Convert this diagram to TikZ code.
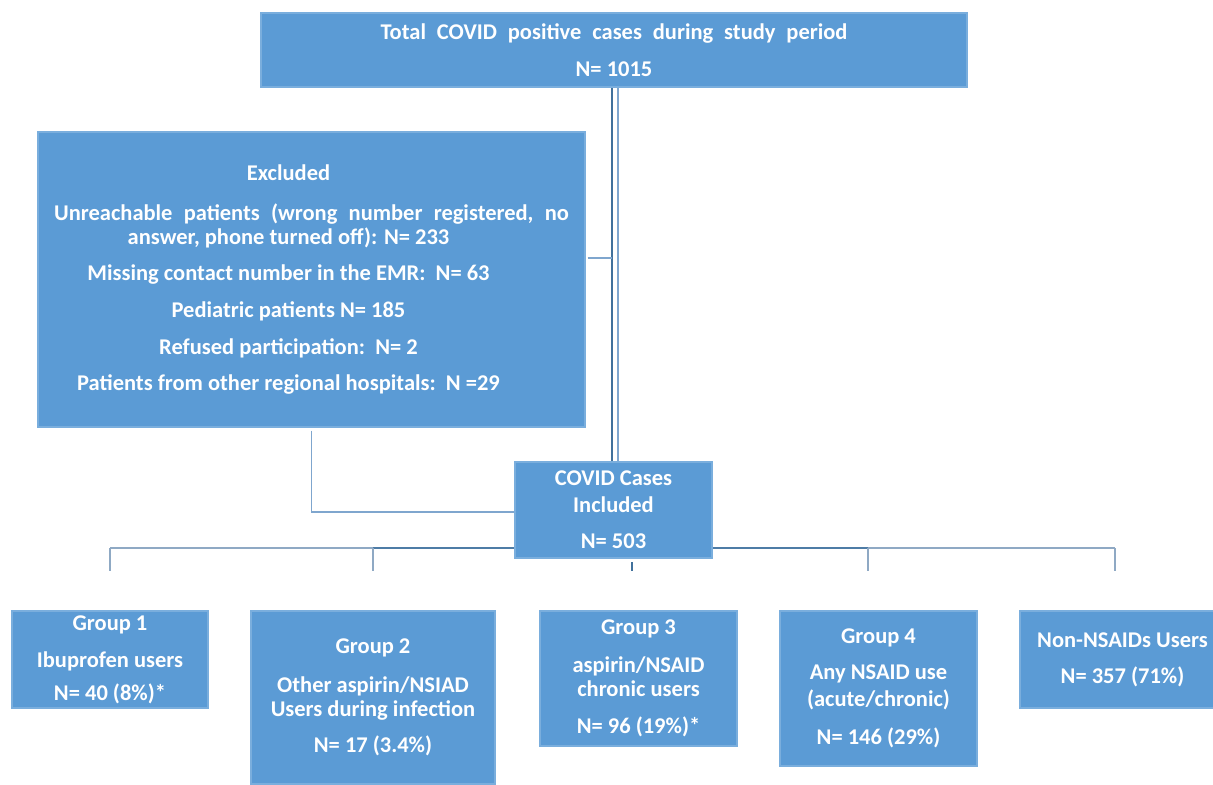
\documentclass[tikz,border=0pt]{standalone}
\usepackage{fontspec}
\setmainfont{Carlito}
\usetikzlibrary{calc, backgrounds}
\definecolor{boxblue}{HTML}{5B9BD5}
\definecolor{boxedge}{HTML}{7AAEDD}
\definecolor{linkdark}{HTML}{41719C}
\definecolor{linklight}{HTML}{7FA6CE}
\definecolor{buslight}{HTML}{8FA9C4}
\newcommand{\boxfont}{\bfseries\fontsize{12.8}{13.6}\selectfont}
\tikzset{
	box text/.style={
		inner sep=0pt,
		align=center,
		text=white,
		font=\boxfont
	},
	flow box/.style={
		box text,
		fill=boxblue,
		draw=boxedge,
		line width=0.6pt
	},
	link dark/.style={
		linkdark,
		line width=1.3pt
	},
	link light/.style={
		linklight,
		line width=1pt
	},
	bus style/.style={
		buslight,
		line width=0.9pt
	}
}

\begin{document}
\begin{tikzpicture}
		
		% --- 1. Frame (reference proportions) ---
		\useasboundingbox (0,0) rectangle (24.26,-15.68);
		
		% --- 2. Top and screening boxes ---
		\node[flow box, minimum width=14.12cm, minimum height=1.48cm] (total) at (12.28,-1.0) {
			\spaceskip=6.2pt plus 1pt\relax
			Total COVID positive cases during study period\\[7.4pt]
			N= 1015
		};
		
		\node[flow box, minimum width=10.94cm, minimum height=5.9cm] (excl) at (6.23,-5.59) {};
		% text block sits a little left of the box centre
		\node[box text] (exclText) at ([xshift=-0.46cm]excl.center) {
			Excluded\\[9pt]
			\makebox[0pt]{\hspace*{0.92cm}{\spaceskip=6.4pt plus 1pt\relax Unreachable patients (wrong number registered, no}}\\
			answer, phone turned off): N= 233\\[7pt]
			Missing contact number in the EMR:\ \ N= 63\\[7.6pt]
			Pediatric patients N= 185\\[7pt]
			Refused participation:\ \ N= 2\\[7pt]
			Patients from other regional hospitals:\ \ N =29
		};
		
		\node[flow box, minimum width=3.94cm, minimum height=1.92cm] (incl) at (12.27,-10.2) {
			COVID Cases\\[1.7pt]
			Included\\[6.8pt]
			N= 503
		};
		
		% --- 3. Group boxes ---
		\node[flow box, minimum width=3.92cm, minimum height=1.94cm] (grp1) at (2.2,-13.19) {
			Group 1\\[7.4pt]
			Ibuprofen users\\[5.2pt]
			N= 40 (8\%)*
		};
		
		\node[flow box, minimum width=4.88cm, minimum height=3.46cm] (grp2) at (7.46,-13.95) {
			Group 2\\[8.5pt]
			Other aspirin/NSIAD\\
			Users during infection\\[6.8pt]
			N= 17 (3.4\%)
		};
		
		\node[flow box, minimum width=3.94cm, minimum height=2.7cm] (grp3) at (12.77,-13.57) {
			Group 3\\[8pt]
			aspirin/NSAID\\
			chronic users\\[7.4pt]
			N= 96 (19\%)*
		};
		
		\node[flow box, minimum width=3.94cm, minimum height=3.1cm] (grp4) at (17.57,-13.77) {
			Group 4\\[6.8pt]
			Any NSAID use\\[1.7pt]
			(acute/chronic)\\[8pt]
			N= 146 (29\%)
		};
		
		\node[flow box, minimum width=4.1cm, minimum height=1.94cm] (nonuser) at (22.45,-13.19) {
			Non-NSAIDs Users\\[6.8pt]
			N= 357 (71\%)
		};
		
		\begin{scope}[on background layer]
			% --- 4. Connectors from the top box ---
			% double line down to the included cases
			\coordinate (trunkA) at ([xshift=-0.4mm]total.south);
			\coordinate (trunkB) at ([xshift=0.8mm]total.south);
			\draw[link dark] (trunkA) -- (trunkA |- incl.north);
			\draw[link light] (trunkB) -- (trunkB |- incl.north);
			
			% branch to the excluded box
			\coordinate (exclJoin) at (trunkA |- 0,-5.16);
			\draw[link light] ([xshift=0.4mm]excl.east |- exclJoin) -- (exclJoin);
			\draw[link light] ([yshift=-0.6mm]excl.south) |- ([yshift=-0.4mm]incl.west);
			
			% --- 5. Bus to the groups ---
			\coordinate (drop1) at (2.2,-10.96);
			\coordinate (drop2) at (7.46,-10.96);
			\coordinate (drop3) at (12.64,-10.96);
			\coordinate (drop4) at (17.36,-10.96);
			\coordinate (drop5) at (22.3,-10.96);
			\draw[bus style] (drop1) -- (drop5);
			\draw[link light, line width=1.1pt, linkdark!80!linklight] (drop2) -- (drop4);
			\foreach \d in {drop1, drop2, drop4, drop5} {
				\draw[bus style] (\d) -- ++(0,-0.46);
			}
			\draw[link dark, line width=0.8pt] ([yshift=-0.28cm]drop3) -- ++(0,-0.18);
		\end{scope}
		
	\end{tikzpicture}
\end{document}
